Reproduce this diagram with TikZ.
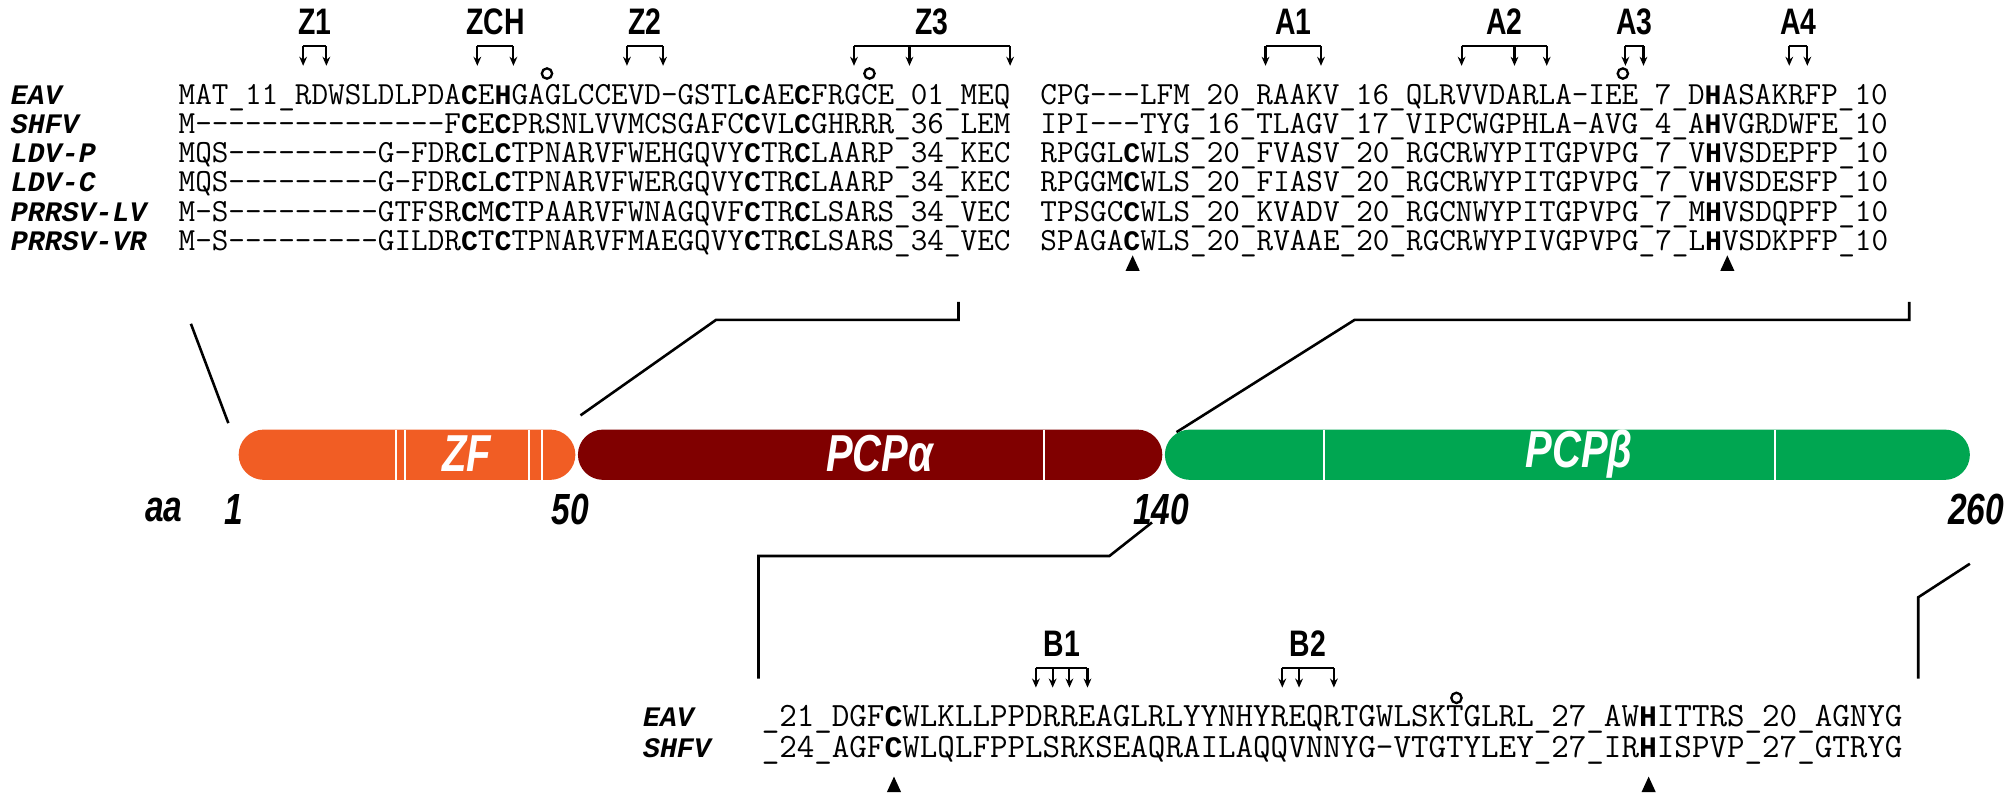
\documentclass[tikz,border=0pt]{standalone}
\usepackage{fontspec}
\setmainfont{Liberation Sans}
\newfontfamily\labelmono{Liberation Mono}
\usetikzlibrary{arrows.meta}
\definecolor{zforange}{RGB}{241,93,36}
\definecolor{pcpred}{RGB}{128,0,0}
\definecolor{pcpgreen}{RGB}{0,166,81}
\newcommand{\seqfont}{\ttfamily\fontsize{25}{25}\selectfont}
\newcommand{\B}[1]{{\labelmono\bfseries\fontsize{21.9}{22}\selectfont #1}}
\newcommand{\Bb}[1]{{\labelmono\bfseries\fontsize{23.1}{23}\selectfont #1}}
\newcommand{\tall}[1]{\scalebox{1}[1.3]{#1}}
\tikzset{every picture/.style={line width=1pt}}
\tikzset{
  seq/.style={anchor=base west, inner sep=0pt, font=\seqfont},
  virus/.style={anchor=base west, inner sep=0pt, font=\labelmono\fontsize{21.9}{22}\selectfont\bfseries\itshape},
  tag/.style={inner sep=0pt, font=\bfseries\fontsize{22}{22}\selectfont},
  num/.style={inner sep=0pt, font=\bfseries\itshape\fontsize{26}{26}\selectfont},
  dom/.style={inner sep=0pt, text=white, font=\bfseries\itshape\fontsize{31}{31}\selectfont},
  brk/.style={line width=1.6pt},
  dart/.style={line width=1.6pt, -{Stealth[length=7pt,width=6pt]}},
  leader/.style={line width=2pt},
  sep/.style={white, line width=1.5pt},
  opn/.style={line width=1.8pt},
  tri/.style={fill=black}
}
\newcommand{\motif}[5]{%
  \draw[brk] (#3,#2) -- (#4,#2);
  \foreach \ax in {#5} \draw[dart] (\ax,#2) -- (\ax,#2+15);
  \node[tag] (#1) at ({(#3+#4)/2},#2-19) {\tall{#1}};}
\newcommand{\tip}[2]{\fill[tri] (#1-5.5,#2+6) -- (#1,#2-6) -- (#1+5.5,#2+6) -- cycle;}

\begin{document}
\begin{tikzpicture}[x=1pt,y=1pt,yscale=-1]
\useasboundingbox (0,0) rectangle (1562,620);

% motifs above the N-terminal alignment
\motif{Z1}{36}{235}{253}{235,253}
\motif{ZCH}{36}{370}{398}{370,398}
\motif{Z2}{36}{486}{514}{486,514}
\motif{Z3}{36}{662}{783}{662,705,783}
\motif{A1}{36}{981}{1024}{981,1024}
\motif{A2}{36}{1133}{1199}{1133,1174,1199}
\motif{A3}{36}{1260}{1274}{1260,1274}
\motif{A4}{36}{1387}{1401}{1387,1401}
\foreach \cx in {424,674,1258} \draw[opn] (\cx,57) circle (4);

% alignment, residues 1-140
\node[virus] (eav)  at (8,81)    {EAV};
\node[virus] (shfv) at (8,103.6) {SHFV};
\node[virus] (ldvp) at (8,126.2) {LDV-P};
\node[virus] (ldvc) at (8,148.8) {LDV-C};
\node[virus] (lv)   at (8,171.4) {PRRSV-LV};
\node[virus] (vr)   at (8,194)   {PRRSV-VR};

\node[seq] (eavA)  at (138,81)    {MAT\_11\_RDWSLDLPDA\B{C}E\B{H}GAGLCCEVD-GSTL\B{C}AE\B{C}FRGCE\_01\_MEQ};
\node[seq] (shfvA) at (138,103.6) {M---------------F\B{C}E\B{C}PRSNLVVMCSGAFC\B{C}VL\B{C}GHRRR\_36\_LEM};
\node[seq] (ldvpA) at (138,126.2) {MQS---------G-FDR\B{C}L\B{C}TPNARVFWEHGQVY\B{C}TR\B{C}LAARP\_34\_KEC};
\node[seq] (ldvcA) at (138,148.8) {MQS---------G-FDR\B{C}L\B{C}TPNARVFWERGQVY\B{C}TR\B{C}LAARP\_34\_KEC};
\node[seq] (lvA)   at (138,171.4) {M-S---------GTFSR\B{C}M\B{C}TPAARVFWNAGQVF\B{C}TR\B{C}LSARS\_34\_VEC};
\node[seq] (vrA)   at (138,194)   {M-S---------GILDR\B{C}T\B{C}TPNARVFMAEGQVY\B{C}TR\B{C}LSARS\_34\_VEC};

\node[seq] (eavB)  at (806,81)    {CPG---LFM\_20\_RAAKV\_16\_QLRVVDARLA-IEE\_7\_D\B{H}ASAKRFP\_10};
\node[seq] (shfvB) at (806,103.6) {IPI---TYG\_16\_TLAGV\_17\_VIPCWGPHLA-AVG\_4\_A\B{H}VGRDWFE\_10};
\node[seq] (ldvpB) at (806,126.2) {RPGGL\B{C}WLS\_20\_FVASV\_20\_RGCRWYPITGPVPG\_7\_V\B{H}VSDEPFP\_10};
\node[seq] (ldvcB) at (806,148.8) {RPGGM\B{C}WLS\_20\_FIASV\_20\_RGCRWYPITGPVPG\_7\_V\B{H}VSDESFP\_10};
\node[seq] (lvB)   at (806,171.4) {TPSGC\B{C}WLS\_20\_KVADV\_20\_RGCNWYPITGPVPG\_7\_M\B{H}VSDQPFP\_10};
\node[seq] (vrB)   at (806,194)   {SPAGA\B{C}WLS\_20\_RVAAE\_20\_RGCRWYPIVGPVPG\_7\_L\B{H}VSDKPFP\_10};
\tip{878}{204}
\tip{1339}{204}

% leaders to the domain bar
\coordinate (lA) at (148,251);  \coordinate (bA) at (177,328);
\coordinate (bB) at (450,322);  \coordinate (kB) at (555,248);  \coordinate (eB) at (743,234);
\coordinate (bC) at (912,335);  \coordinate (kC) at (1050,248); \coordinate (eC) at (1480,234);
\draw[leader] (lA) -- (bA);
\draw[leader] (bB) -- (kB) -| (eB);
\draw[leader] (bC) -- (kC) -| (eC);

% domain bar
\fill[zforange, rounded corners=19.5pt] (185,333) rectangle (446,372);
\fill[pcpred, rounded corners=19.5pt] (448,333) rectangle (901,372);
\fill[pcpgreen, rounded corners=19.5pt] (903,333) rectangle (1527,372);
\foreach \sx in {307,314,410,420,809,1026,1376} \draw[sep] (\sx,333) -- (\sx,372);
\node[dom] (zf)   at (362,352) {\tall{ZF}};
\node[dom] (pcpa) at (682,352) {\tall{PCPα}};
\node[dom] (pcpb) at (1224,352) {\tall{PCPβ}};

\node[num] (aa)   at (127,395) {\tall{aa}};
\node[num] (n1)   at (181,395) {\tall{1}};
\node[num] (n50)  at (442,395) {\tall{50}};
\node[num] (n140) at (900,395) {\tall{140}};
\node[num] (n260) at (1532,395) {\tall{260}};

% leaders to the C-terminal alignment
\coordinate (bD) at (893,405);  \coordinate (kD) at (860,431);  \coordinate (eD) at (588,526);
\coordinate (bE) at (1527,437); \coordinate (kE) at (1487,463); \coordinate (eE) at (1487,526);
\draw[leader] (bD) -- (kD) -| (eD);
\draw[leader] (bE) -- (kE) -- (eE);

% motifs and alignment, residues 140-260
\motif{B1}{518}{803}{843}{803,816,829,843}
\motif{B2}{518}{994}{1034}{994,1007,1034}
\draw[opn] (1129,541) circle (4);

\node[virus] (eav2)  at (498,563) {EAV};
\node[virus] (shfv2) at (498,587) {SHFV};
\node[seq, font=\ttfamily\fontsize{26.4}{26}\selectfont] (eavC)  at (590,563) {\_21\_DGF\Bb{C}WLKLLPPDRREAGLRLYYNHYREQRTGWLSKTGLRL\_27\_AW\Bb{H}ITTRS\_20\_AGNYG};
\node[seq, font=\ttfamily\fontsize{26.4}{26}\selectfont] (shfvC) at (590,587) {\_24\_AGF\Bb{C}WLQLFPPLSRKSEAQRAILAQQVNNYG-VTGTYLEY\_27\_IR\Bb{H}ISPVP\_27\_GTRYG};
\tip{693}{608}
\tip{1278}{608}

\end{tikzpicture}
\end{document}
